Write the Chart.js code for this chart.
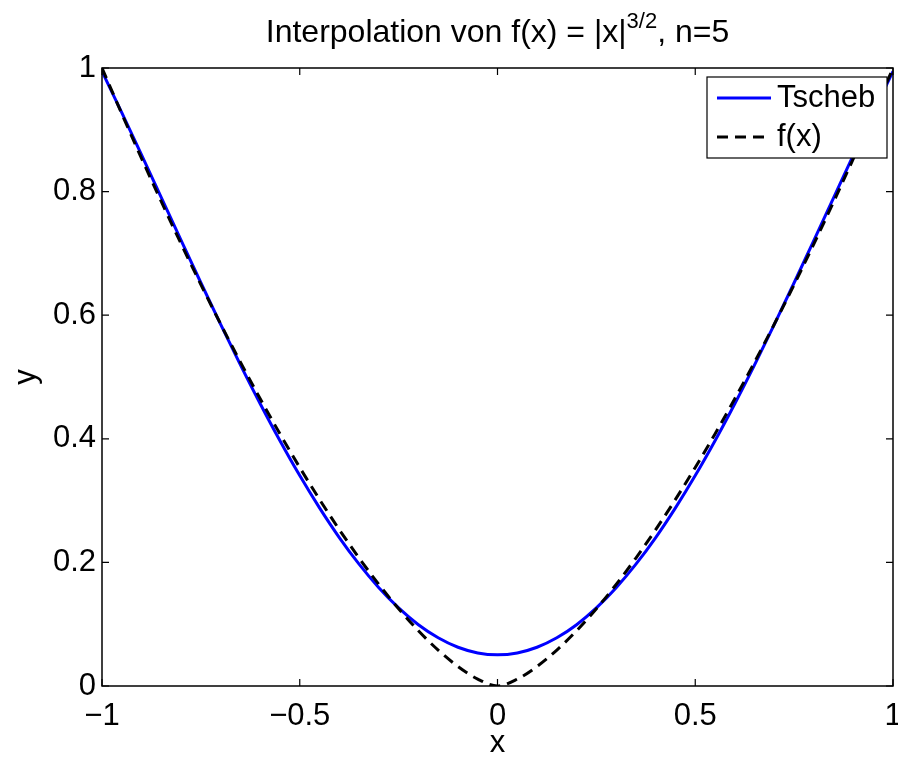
<!DOCTYPE html>
<html>
<head>
<meta charset="utf-8">
<script src="https://cdn.jsdelivr.net/npm/chart.js@4.4.1/dist/chart.umd.min.js"></script>
<style>
  html, body { margin: 0; padding: 0; background: #fff; }
</style>
</head>
<body>
<canvas id="plot" width="898" height="758"></canvas>
<script>
// x-Werte der Stuetzstellen fuer die Darstellung
const xValues = [
  -1, -0.95, -0.9, -0.85, -0.8, -0.75, -0.7, -0.65, -0.6, -0.55, -0.5,
  -0.45, -0.4, -0.35, -0.3, -0.25, -0.2, -0.15, -0.1, -0.05, 0,
  0.05, 0.1, 0.15, 0.2, 0.25, 0.3, 0.35, 0.4, 0.45, 0.5,
  0.55, 0.6, 0.65, 0.7, 0.75, 0.8, 0.85, 0.9, 0.95, 1
];
// Tschebyscheff-Interpolierende (blau)
const tschebValues = [
  0.9946, 0.9279, 0.8596, 0.7904, 0.7211, 0.6525, 0.5851, 0.5197, 0.4568, 0.3969, 0.3405,
  0.2882, 0.2402, 0.1971, 0.1590, 0.1263, 0.0992, 0.0780, 0.0627, 0.0535, 0.0504,
  0.0535, 0.0627, 0.0780, 0.0992, 0.1263, 0.1590, 0.1971, 0.2402, 0.2882, 0.3405,
  0.3969, 0.4568, 0.5197, 0.5851, 0.6525, 0.7211, 0.7904, 0.8596, 0.9279, 0.9946
];
// f(x) (schwarz gestrichelt)
const fValues = [
  1, 0.9260, 0.8538, 0.7837, 0.7155, 0.6495, 0.5857, 0.5241, 0.4648, 0.4079, 0.3536,
  0.3019, 0.2530, 0.2071, 0.1643, 0.1250, 0.0894, 0.0581, 0.0316, 0.0112, 0,
  0.0112, 0.0316, 0.0581, 0.0894, 0.1250, 0.1643, 0.2071, 0.2530, 0.3019, 0.3536,
  0.4079, 0.4648, 0.5241, 0.5857, 0.6495, 0.7155, 0.7837, 0.8538, 0.9260, 1
];
const xTicks = [-1, -0.5, 0, 0.5, 1];
const yTicks = [0, 0.2, 0.4, 0.6, 0.8, 1];
const seriesNames = ['Tscheb', 'f(x)'];

const FONT = "'Liberation Sans', Arial, Helvetica, sans-serif";
Chart.defaults.font.family = FONT;
Chart.defaults.font.size = 31;
Chart.defaults.color = '#000';

function points(ys) {
  return xValues.map((x, i) => ({ x: x, y: ys[i] }));
}

// Rahmen, Ticks nach innen, Legende und Titel (MATLAB-Stil)
const matlabPlugin = {
  id: 'matlab',
  afterDatasetsDraw(chart) {
    const ctx = chart.ctx;
    const ca = chart.chartArea;
    const xs = chart.scales.x, ys = chart.scales.y;
    ctx.save();
    ctx.strokeStyle = '#000';
    ctx.lineWidth = 1.5;
    ctx.strokeRect(ca.left, ca.top, ca.right - ca.left, ca.bottom - ca.top);
    ctx.lineWidth = 1.2;
    ctx.beginPath();
    xTicks.forEach(v => {
      const px = xs.getPixelForValue(v);
      ctx.moveTo(px, ca.bottom); ctx.lineTo(px, ca.bottom - 7);
      ctx.moveTo(px, ca.top); ctx.lineTo(px, ca.top + 7);
    });
    yTicks.forEach(v => {
      const py = ys.getPixelForValue(v);
      ctx.moveTo(ca.left, py); ctx.lineTo(ca.left + 7, py);
      ctx.moveTo(ca.right, py); ctx.lineTo(ca.right - 7, py);
    });
    ctx.stroke();

    // Legende
    const lx = ca.right - 186, ly = ca.top + 9, lw = 180, lh = 81;
    ctx.fillStyle = '#fff';
    ctx.fillRect(lx, ly, lw, lh);
    ctx.lineWidth = 1.2;
    ctx.strokeRect(lx, ly, lw, lh);
    const ds = [chart.data.datasets[1], chart.data.datasets[0]];
    const rows = [ly + 21, ly + 60];
    ds.forEach((d, i) => {
      ctx.beginPath();
      ctx.strokeStyle = d.borderColor;
      ctx.lineWidth = d.borderWidth;
      ctx.setLineDash(d.borderDash || []);
      ctx.moveTo(lx + 10, rows[i]);
      ctx.lineTo(lx + 64, rows[i]);
      ctx.stroke();
      ctx.setLineDash([]);
      ctx.fillStyle = '#000';
      ctx.font = '31px ' + FONT;
      ctx.textAlign = 'left';
      ctx.textBaseline = 'middle';
      ctx.fillText(d.label, lx + 70, rows[i]);
    });
    ctx.restore();
  },
  afterDraw(chart) {
    // Titel mit Exponent
    const ctx = chart.ctx;
    const ca = chart.chartArea;
    const p1 = 'Interpolation von f(x) = |x|', sup = '3/2', p2 = ', n=5';
    ctx.save();
    ctx.fillStyle = '#000';
    ctx.textBaseline = 'alphabetic';
    ctx.textAlign = 'left';
    const big = '32px ' + FONT, small = '22px ' + FONT;
    ctx.font = big;
    const w1 = ctx.measureText(p1).width, w3 = ctx.measureText(p2).width;
    ctx.font = small;
    const w2 = ctx.measureText(sup).width;
    let x = (ca.left + ca.right) / 2 - (w1 + w2 + w3) / 2;
    const base = 42;
    ctx.font = big;
    ctx.fillText(p1, x, base);
    x += w1;
    ctx.font = small;
    ctx.fillText(sup, x, base - 14);
    x += w2;
    ctx.font = big;
    ctx.fillText(p2, x, base);
    ctx.restore();
  }
};

const ctx = document.getElementById('plot').getContext('2d');
new Chart(ctx, {
  type: 'line',
  data: {
    datasets: [{
      label: seriesNames[1],
      data: points(fValues),
      borderColor: '#000',
      borderWidth: 3,
      borderDash: [11, 7],
      pointRadius: 0,
      fill: false,
      cubicInterpolationMode: 'monotone'
    }, {
      label: seriesNames[0],
      data: points(tschebValues),
      borderColor: '#0000ff',
      borderWidth: 3,
      pointRadius: 0,
      fill: false,
      cubicInterpolationMode: 'monotone'
    }]
  },
  options: {
    responsive: false,
    animation: false,
    devicePixelRatio: 1,
    layout: { padding: { top: 68, right: 5, left: 0, bottom: 0 } },
    plugins: { legend: { display: false }, tooltip: { enabled: false }, title: { display: false } },
    scales: {
      x: {
        type: 'linear',
        min: -1, max: 1,
        afterBuildTicks: s => { s.ticks = xTicks.map(v => ({ value: v })); },
        afterFit: s => { s.height = 72; s.paddingLeft = 0; s.paddingRight = 0; },
        grid: { display: false, drawTicks: false },
        border: { display: false },
        ticks: {
          padding: 12,
          maxRotation: 0,
          callback: v => String(v).replace('-', '\u2212')
        },
        title: { display: true, text: 'x', padding: { top: 0, bottom: -4 } }
      },
      y: {
        type: 'linear',
        min: 0, max: 1,
        afterBuildTicks: s => { s.ticks = yTicks.map(v => ({ value: v })); },
        afterFit: s => { s.width = 102; s.paddingTop = 0; s.paddingBottom = 0; },
        grid: { display: false, drawTicks: false },
        border: { display: false },
        ticks: { padding: 6, callback: v => String(v) },
        title: { display: true, text: 'y', padding: { top: 8, bottom: 0 } }
      }
    }
  },
  plugins: [matlabPlugin]
});
</script>
</body>
</html>
